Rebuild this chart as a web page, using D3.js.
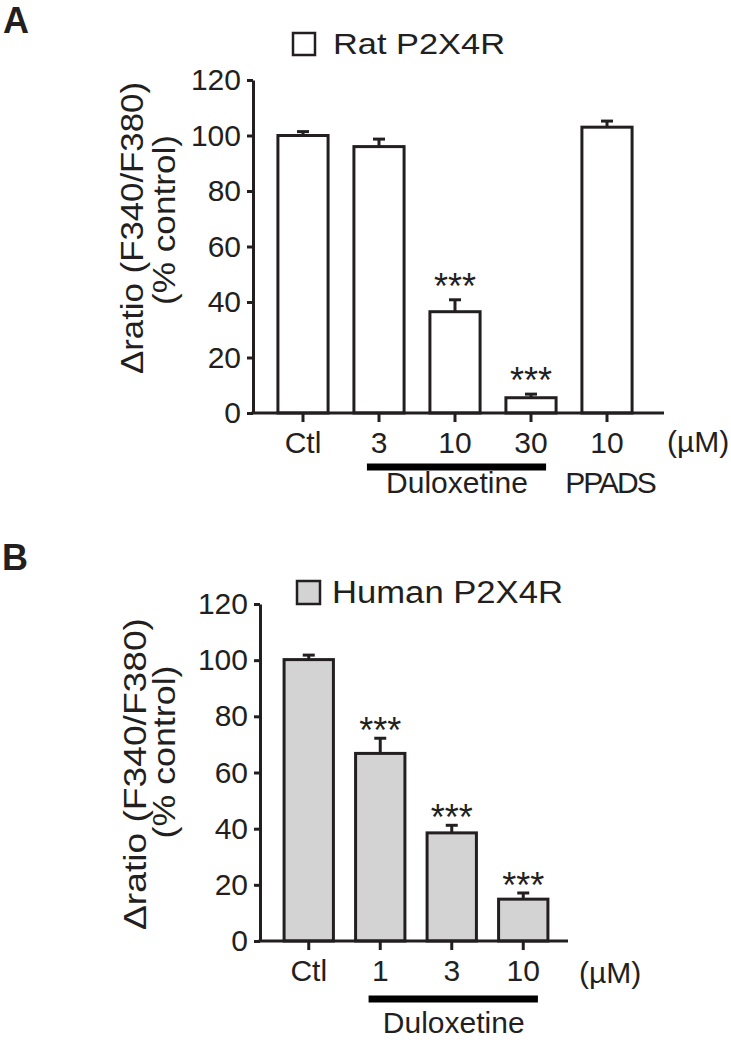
<!DOCTYPE html>
<html>
<head>
<meta charset="utf-8">
<script src="https://cdn.jsdelivr.net/npm/d3@7"></script>
<style>
  body { margin: 0; background: #fff; }
  svg { display: block; font-family: "Liberation Sans", Arial, sans-serif; }
</style>
</head>
<body>
<svg id="chart" width="731" height="1044"></svg>
<script>
// panel A: rat P2X4R
const ratLabels = ['Ctl', '3', '10', '30', '10'];
const ratMeans = [100, 96, 36.5, 5.5, 103];
const ratSem = [1.4, 2.7, 4.3, 1.3, 2.2];
const ratStars = ['', '', '***', '***', ''];

// panel B: human P2X4R
const humanLabels = ['Ctl', '1', '3', '10'];
const humanMeans = [100.2, 66.8, 38.5, 14.9];
const humanSem = [1.6, 5.4, 2.7, 2.2];
const humanStars = ['', '***', '***', '***'];

const yTicks = [0, 20, 40, 60, 80, 100, 120];
const ink = '#231f20';

const svg = d3.select('#chart');

function drawPanel(p) {
  const g = svg.append('g');
  const n = p.labels.length;

  const y = d3.scaleLinear().domain([0, 120]).range([p.yBottom, p.yTop]);
  const x = d3.scaleBand()
    .domain(d3.range(n))
    .range(p.xRange)
    .paddingInner(p.pad)
    .paddingOuter(p.pad / 2);
  const bw = x.bandwidth();

  // panel letter
  g.append('text')
    .attr('x', p.letterX).attr('y', p.letterY)
    .attr('font-size', 36).attr('font-weight', 'bold')
    .attr('fill', ink)
    .text(p.letter);

  // legend
  g.append('rect')
    .attr('x', p.legend[0]).attr('y', p.legend[1])
    .attr('width', p.legend[2]).attr('height', p.legend[2])
    .attr('fill', p.fill).attr('stroke', ink).attr('stroke-width', 2.5);
  g.append('text')
    .attr('x', p.legend[3]).attr('y', p.legend[4])
    .attr('font-size', p.titleSize)
    .attr('textLength', p.titleLen).attr('lengthAdjust', 'spacingAndGlyphs')
    .attr('fill', ink)
    .text(p.title);

  // y axis
  const yAxis = g.append('g')
    .attr('transform', `translate(${p.axisX},0)`)
    .call(d3.axisLeft(y).tickValues(yTicks).tickSize(6).tickPadding(6).tickSizeOuter(0));
  yAxis.select('.domain').attr('stroke', ink).attr('stroke-width', 3);
  yAxis.selectAll('.tick line').attr('stroke', ink).attr('stroke-width', 3);
  yAxis.selectAll('.tick text')
    .attr('font-size', p.tickSize).attr('fill', ink)
    .attr('font-family', '"Liberation Sans", Arial, sans-serif');

  // y label (two lines)
  g.append('text')
    .attr('transform', `translate(${p.label1[0]},${p.label1[1]}) rotate(-90)`)
    .attr('text-anchor', 'middle')
    .attr('font-size', p.labelSize).attr('fill', ink)
    .attr('textLength', p.label1[2]).attr('lengthAdjust', 'spacingAndGlyphs')
    .text('Δratio (F340/F380)');
  g.append('text')
    .attr('transform', `translate(${p.label2[0]},${p.label2[1]}) rotate(-90)`)
    .attr('text-anchor', 'middle')
    .attr('font-size', p.labelSize).attr('fill', ink)
    .attr('textLength', p.label2[2]).attr('lengthAdjust', 'spacingAndGlyphs')
    .text('(% control)');

  // bars
  g.selectAll('rect.bar')
    .data(p.means)
    .join('rect')
    .attr('class', 'bar')
    .attr('x', (d, i) => x(i))
    .attr('y', d => y(d))
    .attr('width', bw)
    .attr('height', d => y(0) - y(d))
    .attr('fill', p.fill)
    .attr('stroke', ink)
    .attr('stroke-width', 3);

  // error bars (upper only)
  p.means.forEach((m, i) => {
    const cx = x(i) + bw / 2;
    const top = y(m + p.sem[i]);
    g.append('line')
      .attr('x1', cx).attr('x2', cx)
      .attr('y1', y(m)).attr('y2', top)
      .attr('stroke', ink).attr('stroke-width', 3);
    g.append('line')
      .attr('x1', cx - 6).attr('x2', cx + 6)
      .attr('y1', top).attr('y2', top)
      .attr('stroke', ink).attr('stroke-width', 3);
    if (p.stars[i]) {
      g.append('text')
        .attr('x', cx).attr('y', top - p.starGap)
        .attr('text-anchor', 'middle')
        .attr('font-size', 36).attr('fill', ink)
        .text(p.stars[i]);
    }
  });

  // x axis
  const xAxis = g.append('g')
    .attr('transform', `translate(0,${p.yBottom})`)
    .call(d3.axisBottom(x).tickFormat(i => p.labels[i]).tickSize(9).tickPadding(p.xPad));
  xAxis.select('.domain').remove();
  xAxis.selectAll('.tick line').attr('stroke', ink).attr('stroke-width', 3);
  xAxis.selectAll('.tick text')
    .attr('font-size', p.tickSize).attr('fill', ink)
    .attr('font-family', '"Liberation Sans", Arial, sans-serif');
  g.append('line')
    .attr('x1', p.axisX - 1.5).attr('x2', p.axisEnd)
    .attr('y1', p.yBottom).attr('y2', p.yBottom)
    .attr('stroke', ink).attr('stroke-width', 3);

  g.append('text')
    .attr('x', p.unitX).attr('y', p.yBottom + p.unitDy)
    .attr('font-size', p.tickSize).attr('fill', ink)
    .text('(µM)');

  // Duloxetine bracket
  const [a, b] = p.dulo;
  g.append('line')
    .attr('x1', x(a) + 13).attr('x2', x(b) + bw - 10)
    .attr('y1', p.yBottom + p.barDy).attr('y2', p.yBottom + p.barDy)
    .attr('stroke', '#000').attr('stroke-width', 7);
  g.append('text')
    .attr('x', (x(a) + x(b) + bw) / 2 + 2).attr('y', p.yBottom + p.textDy)
    .attr('text-anchor', 'middle')
    .attr('font-size', p.tickSize).attr('fill', ink)
    .text('Duloxetine');

  if (p.ppads != null) {
    g.append('text')
      .attr('x', x(p.ppads) + bw / 2 + 3).attr('y', p.yBottom + p.textDy)
      .attr('text-anchor', 'middle')
      .attr('font-size', p.tickSize).attr('letter-spacing', -2).attr('fill', ink)
      .text('PPADS');
  }
}

drawPanel({
  letter: 'A', letterX: 3, letterY: 33,
  title: 'Rat P2X4R', titleSize: 29, titleLen: 172,
  legend: [293, 33, 22, 333, 54],
  labels: ratLabels, means: ratMeans, sem: ratSem, stars: ratStars,
  fill: '#ffffff',
  yTop: 80, yBottom: 413, axisX: 253, axisEnd: 664,
  xRange: [265, 645], pad: 0.34, xPad: 10,
  tickSize: 30, labelSize: 31,
  label1: [143, 228, 292], label2: [175, 220, 170],
  starGap: 1,
  unitX: 667, unitDy: 39,
  dulo: [1, 3], barDy: 54, textDy: 80,
  ppads: 4
});

drawPanel({
  letter: 'B', letterX: 2, letterY: 570,
  title: 'Human P2X4R', titleSize: 31, titleLen: 231,
  legend: [297, 581, 23, 332, 603],
  labels: humanLabels, means: humanMeans, sem: humanSem, stars: humanStars,
  fill: '#d3d3d3',
  yTop: 604, yBottom: 941, axisX: 260, axisEnd: 568,
  xRange: [273, 559], pad: 0.31, xPad: 10,
  tickSize: 30, labelSize: 31,
  label1: [146, 774, 312], label2: [175, 752, 173],
  starGap: -5,
  unitX: 579, unitDy: 42,
  dulo: [1, 3], barDy: 58, textDy: 92,
  ppads: null
});
</script>
</body>
</html>
